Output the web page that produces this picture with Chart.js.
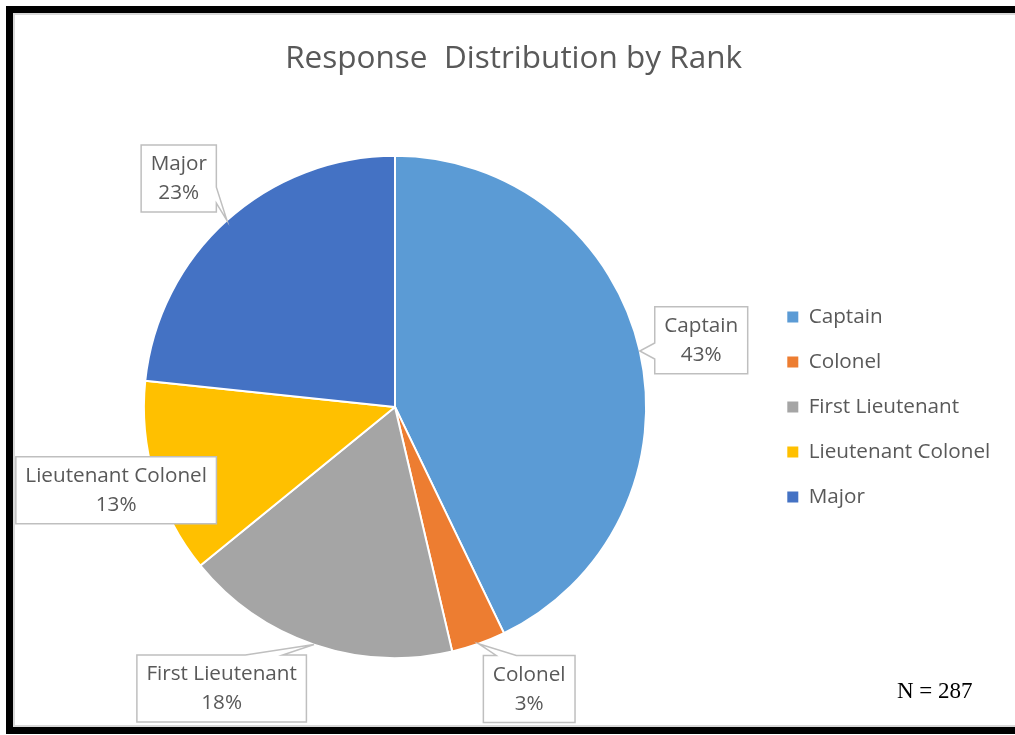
<!doctype html>
<html>
<head>
<meta charset="utf-8">
<title>Response Distribution by Rank</title>
<script src="https://cdn.jsdelivr.net/npm/chart.js"></script>
<style>
  html, body { margin: 0; padding: 0; background: #fff; }
  body { width: 1015px; height: 735px; position: relative; overflow: hidden; }
  #chart { position: absolute; left: 0; top: 0; }
  #frame { position: absolute; left: 6px; top: 6px; right: -10px; bottom: 1px;
           border: 7px solid #000; border-right: none; pointer-events: none; }
  #frame:after { content: ''; position: absolute; left: 0; top: 0; right: 0; bottom: 0;
                 border: 2px solid #d9d9d9; border-right: none; }
</style>
</head>
<body>
<canvas id="chart" width="1015" height="735"></canvas>
<div id="frame"></div>
<script>
const categories = ['Captain', 'Colonel', 'First Lieutenant', 'Lieutenant Colonel', 'Major'];
const responses = [123, 10, 51, 36, 67];
const sliceColors = ['#5B9BD5', '#ED7D31', '#A5A5A5', '#FFC000', '#4472C4'];
const sampleNote = 'N = 287';

const FONT = "'Open Sans', sans-serif";
const TEXT_GREY = '#595959';
const LABEL_SIZE = 20.7;

// legend text width decides how much room the right legend takes
const measureCtx = document.createElement('canvas').getContext('2d');
measureCtx.font = LABEL_SIZE + 'px ' + FONT;
const widestLabel = Math.max(...categories.map(c => measureCtx.measureText(c).width));
const legendPad = 24.3;
const legendWidth = legendPad + 11 + LABEL_SIZE / 2 + widestLabel + 10;
const chartRight = 763;                       // left edge of the legend
const padRight = 1015 - chartRight - legendWidth;

const calloutPlugin = {
  id: 'callouts',
  afterDatasetsDraw(chart, args, opts) {
    const meta = chart.getDatasetMeta(0);
    const data = chart.data.datasets[0].data;
    const total = data.reduce((a, b) => a + b, 0);
    const ctx = chart.ctx;
    const clamp = (v, lo, hi) => Math.max(lo, Math.min(hi, v));
    const baseOn = (lo, hi, p) => {
      const len = hi - lo;
      const c = clamp(p, lo + len * 0.25, hi - len * 0.25);
      const half = Math.max(8, len * 0.11);
      return [c - half, c + half];
    };
    ctx.save();
    ctx.font = opts.fontSize + 'px ' + FONT;
    meta.data.forEach((arc, i) => {
      const p = arc.getProps(['x', 'y', 'startAngle', 'endAngle', 'outerRadius'], true);
      const mid = (p.startAngle + p.endAngle) / 2;
      const place = opts.placement[i];
      const a = mid + place.shift * Math.PI / 180;
      const cx = p.x + Math.cos(a) * p.outerRadius * place.dist;
      const cy = p.y + Math.sin(a) * p.outerRadius * place.dist;
      const tip = { x: p.x + Math.cos(mid) * p.outerRadius, y: p.y + Math.sin(mid) * p.outerRadius };
      const lines = [chart.data.labels[i], Math.round(data[i] / total * 100) + '%'];
      const w = Math.max(...lines.map(l => ctx.measureText(l).width)) + 2 * opts.padX;
      const h = opts.boxHeight;
      const x0 = cx - w / 2, y0 = cy - h / 2, x1 = cx + w / 2, y1 = cy + h / 2;

      // which side of the box the pointer leaves from (none if the tip is inside)
      const out = { l: x0 - tip.x, r: tip.x - x1, t: y0 - tip.y, b: tip.y - y1 };
      let side = null, best = 0;
      for (const k in out) if (out[k] > best) { best = out[k]; side = k; }

      ctx.beginPath();
      ctx.moveTo(x0, y0);
      if (side === 't') { const [u, v] = baseOn(x0, x1, tip.x); ctx.lineTo(u, y0); ctx.lineTo(tip.x, tip.y); ctx.lineTo(v, y0); }
      ctx.lineTo(x1, y0);
      if (side === 'r') { const [u, v] = baseOn(y0, y1, tip.y); ctx.lineTo(x1, u); ctx.lineTo(tip.x, tip.y); ctx.lineTo(x1, v); }
      ctx.lineTo(x1, y1);
      if (side === 'b') { const [u, v] = baseOn(x0, x1, tip.x); ctx.lineTo(v, y1); ctx.lineTo(tip.x, tip.y); ctx.lineTo(u, y1); }
      ctx.lineTo(x0, y1);
      if (side === 'l') { const [u, v] = baseOn(y0, y1, tip.y); ctx.lineTo(x0, v); ctx.lineTo(tip.x, tip.y); ctx.lineTo(x0, u); }
      ctx.closePath();
      ctx.fillStyle = '#fff';
      ctx.fill();
      ctx.strokeStyle = '#BFBFBF';
      ctx.lineWidth = 1.5;
      ctx.stroke();

      ctx.fillStyle = TEXT_GREY;
      ctx.textAlign = 'center';
      ctx.textBaseline = 'middle';
      ctx.fillText(lines[0], cx, cy - 14);
      ctx.fillText(lines[1], cx, cy + 15);
    });

    // sample size note, bottom right
    ctx.font = "23px 'Liberation Serif', serif";
    ctx.fillStyle = '#000';
    ctx.textAlign = 'left';
    ctx.textBaseline = 'alphabetic';
    ctx.fillText(sampleNote, 897, 698);
    ctx.restore();
  }
};

new Chart(document.getElementById('chart'), {
  type: 'pie',
  data: {
    labels: categories,
    datasets: [{
      data: responses,
      backgroundColor: sliceColors,
      borderColor: '#fff',
      borderWidth: 2
    }]
  },
  plugins: [calloutPlugin],
  options: {
    responsive: false,
    animation: false,
    layout: { padding: { left: 27, right: padRight, top: 0, bottom: 76 } },
    plugins: {
      title: {
        display: true,
        text: 'Response  Distribution by Rank',
        color: TEXT_GREY,
        font: { family: FONT, size: 31.5, weight: 'normal', lineHeight: 1.2 },
        padding: { top: 40, bottom: 77 }
      },
      legend: {
        position: 'right',
        fullSize: false,
        labels: {
          color: TEXT_GREY,
          font: { family: FONT, size: LABEL_SIZE },
          boxWidth: 11,
          boxHeight: 11,
          padding: legendPad,
          generateLabels(chart) {
            const items = Chart.overrides.pie.plugins.legend.labels.generateLabels(chart);
            items.forEach(it => { it.lineWidth = 0; });
            return items;
          }
        }
      },
      tooltip: { enabled: false },
      callouts: {
        fontSize: LABEL_SIZE,
        padX: 9.5,
        boxHeight: 67,
        placement: [
          { shift: 0.6, dist: 1.248 },
          { shift: -6, dist: 1.244 },
          { shift: 12.8, dist: 1.317 },
          { shift: 0, dist: 1.159 },
          { shift: -1.4, dist: 1.253 }
        ]
      }
    }
  }
});
</script>
</body>
</html>
